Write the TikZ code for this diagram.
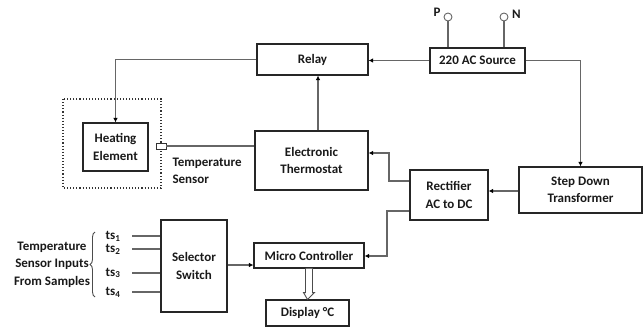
\documentclass[tikz,border=0pt]{standalone}
\usepackage{fontspec}
\setmainfont{Carlito}
\usetikzlibrary{arrows.meta,calc,decorations.pathreplacing}
\begin{document}
\begin{tikzpicture}[x=1pt,y=-1pt,
  every node/.style={font=\fontsize{13}{17.5}\selectfont\bfseries, text=black!90},
  blk/.style={draw=black!85, line width=1.1pt, inner sep=0pt, align=center},
  conn/.style={draw=black!60, line width=1.2pt},
  arr/.style={conn, -{Latex[length=4.5pt,width=4.5pt,black]}},
  term/.style={circle, draw=black!60, line width=0.9pt, minimum size=8pt, inner sep=0pt}
]
\useasboundingbox (0,0) rectangle (643,329);

% blocks
\node[blk, minimum width=111pt, minimum height=31pt] (relay) at (312.5,59.5) {Relay};
\node[blk, minimum width=95pt, minimum height=25pt] (src) at (477.5,60.5) {220 AC Source};
\node[blk, minimum width=65pt, minimum height=48pt] (he) at (115.5,147) {Heating\\Element};
\node[blk, minimum width=113pt, minimum height=59pt] (et) at (311.5,160.5) {Electronic\\Thermostat};
\node[blk, minimum width=78pt, minimum height=50pt] (rect) at (449,195) {Rectifier\\AC to DC};
\node[blk, minimum width=123pt, minimum height=46pt] (tf) at (580.5,190) {Step Down\\Transformer};
\node[blk, minimum width=110pt, minimum height=25pt] (mc) at (309,255.5) {Micro Controller};
\node[blk, minimum width=83pt, minimum height=26pt] (disp) at (307.5,313) {Display °C};
\node[blk, minimum width=66pt, minimum height=92pt] (sel) at (194,266) {Selector\\Switch};

% dotted enclosure and sensor
\draw[black!80, line width=1.1pt, dotted] (63,99) rectangle (161,188);
\node[draw=black!80, fill=white, line width=0.9pt, minimum width=10pt, minimum height=6pt, inner sep=0pt] (sens) at (161,146) {};
\node[anchor=west, align=left] (senslbl) at (169,171) {Temperature\\Sensor};

% terminals
\node[term] (p) at (448,17) {};
\node[term] (n) at (504,17) {};
\node[inner sep=0pt] (plbl) at (437,12) {P};
\node[inner sep=0pt] (nlbl) at (516.5,14.5) {N};
\draw[conn] (p.south) -- (p.south |- src.north);
\draw[conn] (n.south) -- (n.south |- src.north);

% connectors
\draw[arr] (src.west) -- (src.west -| relay.east);
\draw[arr] (src.east) -| (tf.north);
\draw[arr] (relay.west) -| (he.north);
\coordinate (etup) at ($(et.north)+(6.5,0)$);
\draw[arr] (etup) -- (etup |- relay.south);
\draw[conn] (sens.east) -- (sens.east -| et.west);
\draw[arr] (tf.west |- 0,191) -- (rect.east |- 0,191);
\coordinate (r1) at (389,181);
\coordinate (r2) at (389,153);
\draw[arr] (rect.west |- r1) -- (r1) -- (r2) -- (et.east |- r2);
\coordinate (r3) at (387,211);
\coordinate (r4) at (387,256);
\draw[arr] (rect.west |- r3) -- (r3) -- (r4) -- (mc.east |- r4);
\draw[arr] (sel.east |- 0,265) -- (mc.west |- 0,265);

% hollow arrow
\draw[draw=black!70, line width=0.9pt, fill=white]
  ($(mc.south)+(-3.5,0)$) -- ($(mc.south)+(-3.5,24)$) -- ($(mc.south)+(-5.5,24)$)
  -- (disp.north) -- ($(mc.south)+(5.5,24)$) -- ($(mc.south)+(3.5,24)$) -- ($(mc.south)+(3.5,0)$);

% sensor inputs
\foreach \i/\y in {1/236, 2/249, 3/273, 4/292} {
  \node (ts\i) at (113,\y) {ts\textsubscript{\i}};
  \coordinate (tsl\i) at (132,\y);
  \draw[conn] (tsl\i) -- (sel.west |- tsl\i);
}
\draw[black!70, line width=0.9pt, decorate, decoration={brace, amplitude=5pt}] (95,297) -- (95,232);
\node[align=center] (inputs) at (52,264.5) {Temperature\\Sensor Inputs\\From Samples};
\end{tikzpicture}
\end{document}
